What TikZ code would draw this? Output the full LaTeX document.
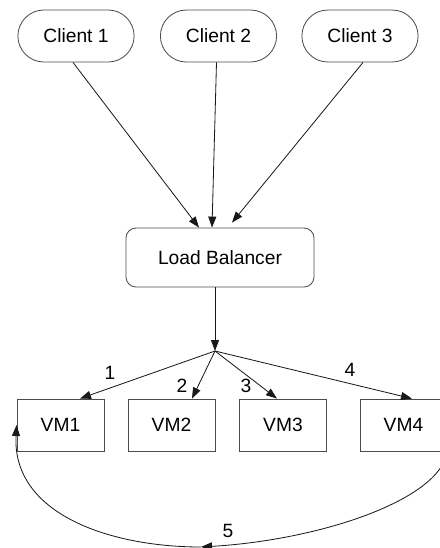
\documentclass[tikz,border=0pt]{standalone}
\usepackage{fontspec}
\setmainfont{Liberation Sans}
\usetikzlibrary{shapes.misc,arrows.meta}
\begin{document}
\begin{tikzpicture}[x=0.03cm,y=-0.03cm,
    font=\fontsize{16.4}{19}\selectfont,
    client/.style={draw=black!70, line width=0.7pt, rounded rectangle, minimum width=3.72cm, minimum height=1.56cm},
    balancer/.style={draw=black!70, line width=0.7pt, rectangle, rounded corners=0.3cm, minimum width=5.64cm, minimum height=1.77cm},
    vm/.style={draw=black!70, line width=0.7pt, rectangle, minimum width=2.61cm, minimum height=1.56cm},
    link/.style={draw=black!90, line width=0.7pt, -{Triangle[length=0.33cm,width=0.24cm]}}]
    \useasboundingbox (0,0) rectangle (440,548);
    % Clients at the top
    \node[client] (client1) at (76,36) {Client 1};
    \node[client] (client2) at (218.5,36) {Client 2};
    \node[client] (client3) at (360,36) {Client 3};
    % Load balancer in the middle
    \node[balancer] (lb) at (220,257.5) {Load Balancer};
    % VMs in a row
    \node[vm] (vm1) at (60.5,425) {VM1};
    \node[vm] (vm2) at (171.5,425) {VM2};
    \node[vm] (vm3) at (283,425) {VM3};
    \node[vm] (vm4) at (403.5,425) {VM4};
    % Clients to load balancer
    \draw[link] ([xshift=-0.09cm]client1.south) -- ([xshift=-0.63cm]lb.north);
    \draw[link] ([xshift=-0.06cm]client2.south) -- ([xshift=-0.24cm]lb.north);
    \draw[link] ([xshift=0.09cm]client3.south) -- ([xshift=0.36cm,yshift=0.15cm]lb.north);
    % Load balancer to the split point
    \coordinate (hub) at (215,351);
    \draw[link] ([xshift=-0.15cm]lb.south) -- (hub);
    % Split point to the VMs
    \draw[link] (hub) -- ([xshift=0.585cm]vm1.north);
    \draw[link] (hub) -- ([xshift=0.615cm]vm2.north);
    \draw[link] (hub) -- ([xshift=-0.18cm]vm3.north);
    \draw[link] (hub) -- ([xshift=0.255cm]vm4.north);
    \node (n1) at (110,373) {1};
    \node (n2) at (182,386) {2};
    \node (n3) at (246,386) {3};
    \node (n4) at (350,370) {4};
    % Back from VM4 round to VM1
    \coordinate (low) at (201,547);
    \draw[link] (vm4.south east) .. controls (440,500) and (320,540) .. (low);
    \draw[link] (low) .. controls (110,547) and (12,514) .. (vm1.west);
    \node (n5) at (228,531) {5};
\end{tikzpicture}
\end{document}
